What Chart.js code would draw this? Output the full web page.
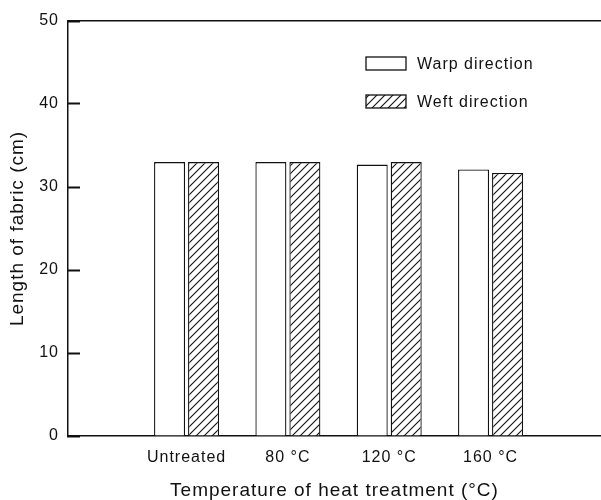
<!DOCTYPE html>
<html>
<head>
<meta charset="utf-8">
<script src="https://cdn.jsdelivr.net/npm/chart.js@4/dist/chart.umd.min.js"></script>
<style>
  html, body { margin: 0; padding: 0; background: #fff; }
  canvas { display: block; }
</style>
</head>
<body>
<canvas id="chart" width="601" height="500"></canvas>
<script>
// Fabric length after heat treatment, warp vs weft
const categories = ['Untreated', '80 °C', '120 °C', '160 °C'];
const warpLength = [33.0, 33.0, 32.7, 32.1];
const weftLength = [33.0, 33.0, 33.0, 31.7];
const seriesNames = ['Warp direction', 'Weft direction'];
const yTicks = [0, 10, 20, 30, 40, 50];
const xTitle = 'Temperature of heat treatment (°C)';
const yTitle = 'Length of fabric (cm)';

const INK = '#111111';
const FONT = '"Liberation Sans", Arial, sans-serif';

// diagonal "////" fill used for the weft bars
function hatchPattern() {
  const n = 8;
  const tile = document.createElement('canvas');
  tile.width = n; tile.height = n;
  const g = tile.getContext('2d');
  g.fillStyle = '#fff';
  g.fillRect(0, 0, n, n);
  g.strokeStyle = INK;
  g.lineWidth = 1.1;
  g.beginPath();
  g.moveTo(-1, n + 1); g.lineTo(n + 1, -1);
  g.moveTo(-1, 1);     g.lineTo(1, -1);
  g.moveTo(n - 1, n + 1); g.lineTo(n + 1, n - 1);
  g.stroke();
  return g.createPattern(tile, 'repeat');
}

// groups sit at 1..n on a linear axis so the empty margin left of the first group is kept
const toPoints = vals => vals.map((v, i) => ({ x: i + 1, y: v }));
const X_MIN = -0.17, X_MAX = 5.09;

const spacingPlugin = {
  id: 'textSpacing',
  beforeLayout(chart) { chart.ctx.letterSpacing = '1px'; },
  beforeDraw(chart) { chart.ctx.letterSpacing = '1px'; }
};

// key drawn inside the plot, upper right
const keyPlugin = {
  id: 'keyBoxes',
  afterDraw(chart) {
    const { ctx, chartArea } = chart;
    const x0 = chartArea.left + 298, y0 = chartArea.top + 36;
    const boxW = 40, boxH = 13, rowGap = 38;
    ctx.save();
    ctx.font = '16px ' + FONT;
    ctx.textBaseline = 'middle';
    chart.data.datasets.forEach((ds, i) => {
      const y = y0 + i * rowGap;
      ctx.fillStyle = ds.backgroundColor;
      ctx.fillRect(x0, y, boxW, boxH);
      ctx.lineWidth = 1.3;
      ctx.strokeStyle = INK;
      ctx.strokeRect(x0, y, boxW, boxH);
      ctx.fillStyle = INK;
      ctx.fillText(ds.label, x0 + boxW + 11, y + boxH / 2 + 1);
    });
    ctx.restore();
  }
};

const barStyle = {
  borderColor: INK,
  borderWidth: 1.3,
  categoryPercentage: 0.671,
  barPercentage: 0.912,
  xAxisID: 'x',
  yAxisID: 'y'
};

new Chart(document.getElementById('chart'), {
  type: 'bar',
  data: {
    datasets: [
      Object.assign({ label: seriesNames[0], data: toPoints(warpLength), backgroundColor: '#ffffff' }, barStyle),
      Object.assign({ label: seriesNames[1], data: toPoints(weftLength), backgroundColor: hatchPattern() }, barStyle)
    ]
  },
  options: {
    responsive: false,
    animation: false,
    devicePixelRatio: 1,
    layout: { padding: { top: 21, left: 0, right: 0, bottom: 0 } },
    plugins: { legend: { display: false }, tooltip: { enabled: false } },
    scales: {
      x: {
        type: 'linear',
        position: 'bottom',
        offset: false,
        min: X_MIN,
        max: X_MAX,
        afterBuildTicks: s => { s.ticks = categories.map((c, i) => ({ value: i + 1 })); },
        afterFit: s => { s.height = 64; },
        ticks: {
          callback: (v, i) => categories[i],
          autoSkip: false,
          maxRotation: 0,
          padding: 12,
          color: INK,
          font: { family: FONT, size: 16 }
        },
        grid: { display: false, drawTicks: false, offset: false },
        border: { display: true, width: 1.5, color: INK },
        title: {
          display: true,
          text: xTitle,
          color: INK,
          font: { family: FONT, size: 19, lineHeight: 1 },
          padding: { top: 0, bottom: 0 }
        }
      },
      xTop: {
        type: 'linear',
        position: 'top',
        offset: false,
        min: X_MIN,
        max: X_MAX,
        afterFit: s => { s.height = 0; },
        ticks: { display: false },
        grid: { display: false, drawTicks: false, offset: false },
        border: { display: true, width: 1.5, color: INK }
      },
      y: {
        min: yTicks[0],
        max: yTicks[yTicks.length - 1],
        afterBuildTicks: s => { s.ticks = yTicks.map(v => ({ value: v })); },
        afterFit: s => { s.width = 68; s.paddingTop = 0; s.paddingBottom = 0; },
        ticks: {
          padding: 21,
          color: INK,
          font: { family: FONT, size: 16 }
        },
        grid: {
          drawOnChartArea: false,
          drawTicks: true,
          tickLength: -12,
          tickWidth: 2,
          tickColor: INK
        },
        border: { width: 1.5, color: INK },
        title: {
          display: true,
          text: yTitle,
          color: INK,
          font: { family: FONT, size: 19, lineHeight: 1 },
          padding: { top: 8, bottom: 0 }
        }
      }
    }
  },
  plugins: [spacingPlugin, keyPlugin]
});
</script>
</body>
</html>
